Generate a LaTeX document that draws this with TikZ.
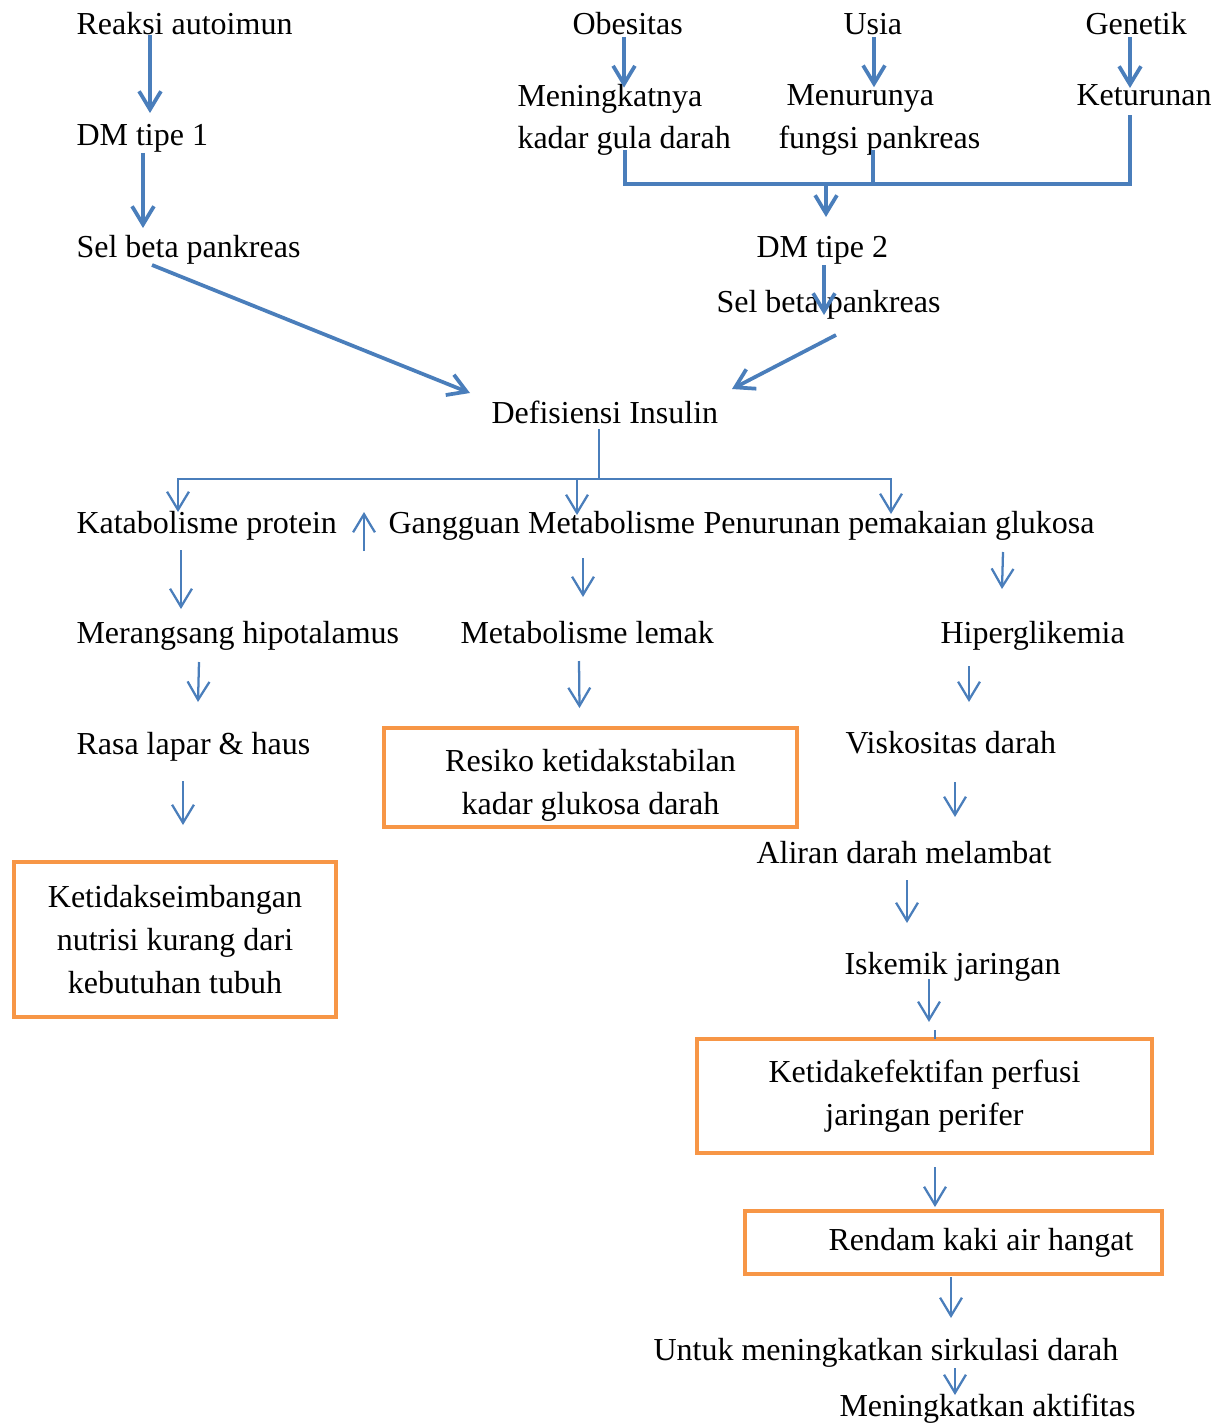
\documentclass[tikz,border=0pt]{standalone}
\usepackage{fontspec}
\setmainfont{Liberation Serif}
\usetikzlibrary{arrows.meta,calc}
\definecolor{garisbiru}{RGB}{74,126,187}
\definecolor{kotakoranye}{RGB}{247,150,70}
\begin{document}
\begin{tikzpicture}[x=0.375pt, y=-0.375pt,
  >={Straight Barb[length=6.8pt,width=8.2pt]},
  teks/.style={anchor=base west, inner sep=0pt, font=\fontsize{12}{16}\selectfont},
  kotak/.style={draw=kotakoranye, line width=1.5pt, align=center, font=\fontsize{12}{16}\selectfont},
  tebal/.style={draw=garisbiru, line width=1.4pt},
  tipis/.style={draw=garisbiru, line width=0.85pt}]
\useasboundingbox (0,0) rectangle (1223,1423);
% penyebab
\node[teks] (autoimun) at (76,35) {Reaksi autoimun};
\node[teks] (dm1) at (76,146) {DM tipe 1};
\node[teks] (sel1) at (76,257) {Sel beta pankreas};
\node[teks] (obes) at (572,35) {Obesitas};
\node[teks] (usia) at (843,35) {Usia};
\node[teks] (genetik) at (1085,35) {Genetik};
\node[teks, anchor=west, align=left] (gula) at (517,120) {Meningkatnya\\kadar gula darah};
\node[teks, anchor=west, align=left] (fungsi) at (778,120) {\hspace*{3pt}Menurunya\\fungsi pankreas};
\node[teks] (ket) at (1076,106) {Keturunan};
\node[teks] (dm2) at (756,257) {DM tipe 2};
\node[teks] (sel2) at (716,312) {Sel beta pankreas};
\node[teks] (defis) at (491,423) {Defisiensi Insulin};
% cabang
\node[teks] (katab) at (76,533) {Katabolisme protein};
\node[teks] (gangg) at (388,533) {Gangguan Metabolisme};
\node[teks] (penur) at (703,533) {Penurunan pemakaian glukosa};
\node[teks] (meran) at (76,643) {Merangsang hipotalamus};
\node[teks] (lemak) at (460,643) {Metabolisme lemak};
\node[teks] (hiper) at (940,643) {Hiperglikemia};
\node[teks] (rasa) at (76,754) {Rasa lapar \& haus};
\node[teks] (visk) at (845,753) {Viskositas darah};
\node[teks] (aliran) at (756,863) {Aliran darah melambat};
\node[teks] (iskemik) at (844,974) {Iskemik jaringan};
\node[teks] (untuk) at (653,1360) {Untuk meningkatkan sirkulasi darah};
\node[teks] (aktif) at (839,1416) {Meningkatkan aktifitas};
% diagnosa
\node[kotak, minimum width=154.9pt, minimum height=37.1pt, inner ysep=2pt] (resiko) at (590.5,777.5) {\rule{0pt}{14.2pt}Resiko ketidakstabilan\\kadar glukosa darah};
\node[kotak, minimum width=120.8pt, minimum height=58.1pt] (nutrisi) at (175,939.5) {Ketidakseimbangan\\nutrisi kurang dari\\kebutuhan tubuh};
\node[kotak, minimum width=170.6pt, minimum height=42.8pt] (perfusi) at (924.5,1096) {Ketidakefektifan perfusi\\jaringan perifer};
\node[kotak, minimum width=156.4pt, minimum height=23.6pt] (rendam) at (953.5,1242.5) {\hspace*{20.6pt}Rendam kaki air hangat};
% panah bagian atas
\draw[tebal,->] ($(autoimun.base west)+(74,0)$) -- ($(dm1.base west)+(74,-33)$);
\draw[tebal,->] ($(dm1.base west)+(67,7)$) -- ($(sel1.base west)+(67,-29)$);
\draw[tebal,->] ($(sel1.base west)+(76,8)$) -- ($(defis.base west)+(-21,-30)$);
\draw[tebal,->] ($(obes.base west)+(52,2)$) -- ($(gula.north west)+(107,4)$);
\draw[tebal,->] ($(usia.base west)+(31,2)$) -- ($(fungsi.north west)+(96,3)$);
\draw[tebal,->] ($(genetik.base west)+(45,2)$) -- ($(ket.base west)+(54,-18)$);
\coordinate (brk) at ($(dm2.base west)+(70,-73)$);
\draw[tebal] ($(gula.south west)+(108,-6)$) |- (brk) -| ($(ket.base west)+(54,9)$);
\draw[tebal] ($(fungsi.south west)+(95,-6)$) |- (brk);
\draw[tebal,->] (brk) -- ($(dm2.base west)+(70,-40)$);
\draw[tebal,->] ($(dm2.base west)+(68,8)$) -- ($(sel2.base west)+(108,3)$);
\draw[tebal,->] ($(sel2.base west)+(120,23)$) -- ($(defis.base west)+(241,-34)$);
% panah bagian bawah
\coordinate (cabang) at ($(defis.base west)+(108,56)$);
\draw[tipis] ($(defis.base west)+(108,6)$) -- (cabang);
\draw[tipis,->] (cabang) -| ($(katab.base west)+(102,-21)$);
\draw[tipis,->] (cabang) -| ($(penur.base west)+(188,-19)$);
\draw[tipis,->] ($(gangg.base west)+(189,-54)$) -- ($(gangg.base west)+(189,-18)$);
\draw[tipis,->] ($(katab.base west)+(288,18)$) -- ($(katab.base west)+(288,-21)$);
\draw[tipis,->] ($(katab.base west)+(105,17)$) -- ($(meran.base west)+(105,-34)$);
\draw[tipis,->] ($(meran.base west)+(123,19)$) -- ($(rasa.base west)+(122,-52)$);
\draw[tipis,->] ($(rasa.base west)+(107,27)$) -- ($(nutrisi.north)+(8,-35)$);
\draw[tipis,->] ($(gangg.base west)+(195,25)$) -- ($(lemak.base west)+(123,-46)$);
\draw[tipis,->] ($(lemak.base west)+(119,18)$) -- ($(resiko.north)+(-11,-18)$);
\draw[tipis,->] ($(penur.base west)+(300,19)$) -- ($(hiper.base west)+(62,-54)$);
\draw[tipis,->] ($(hiper.base west)+(29,23)$) -- ($(visk.base west)+(124,-51)$);
\draw[tipis,->] ($(visk.base west)+(110,29)$) -- ($(aliran.base west)+(199,-46)$);
\draw[tipis,->] ($(aliran.base west)+(151,17)$) -- ($(iskemik.base west)+(63,-51)$);
\draw[tipis,->] ($(iskemik.base west)+(85,5)$) -- ($(perfusi.north)+(4.5,-15)$);
\draw[tipis] ($(perfusi.north)+(10.5,-7)$) -- ($(perfusi.north)+(10.5,2)$);
\draw[tipis,->] ($(perfusi.south)+(10.5,12)$) -- ($(rendam.north)+(-18.5,-2)$);
\draw[tipis,->] ($(rendam.south)+(-2.5,1)$) -- ($(untuk.base west)+(298,-42)$);
\draw[tipis,->] ($(untuk.base west)+(302,8)$) -- ($(aktif.base west)+(116,-21)$);
\end{tikzpicture}
\end{document}
